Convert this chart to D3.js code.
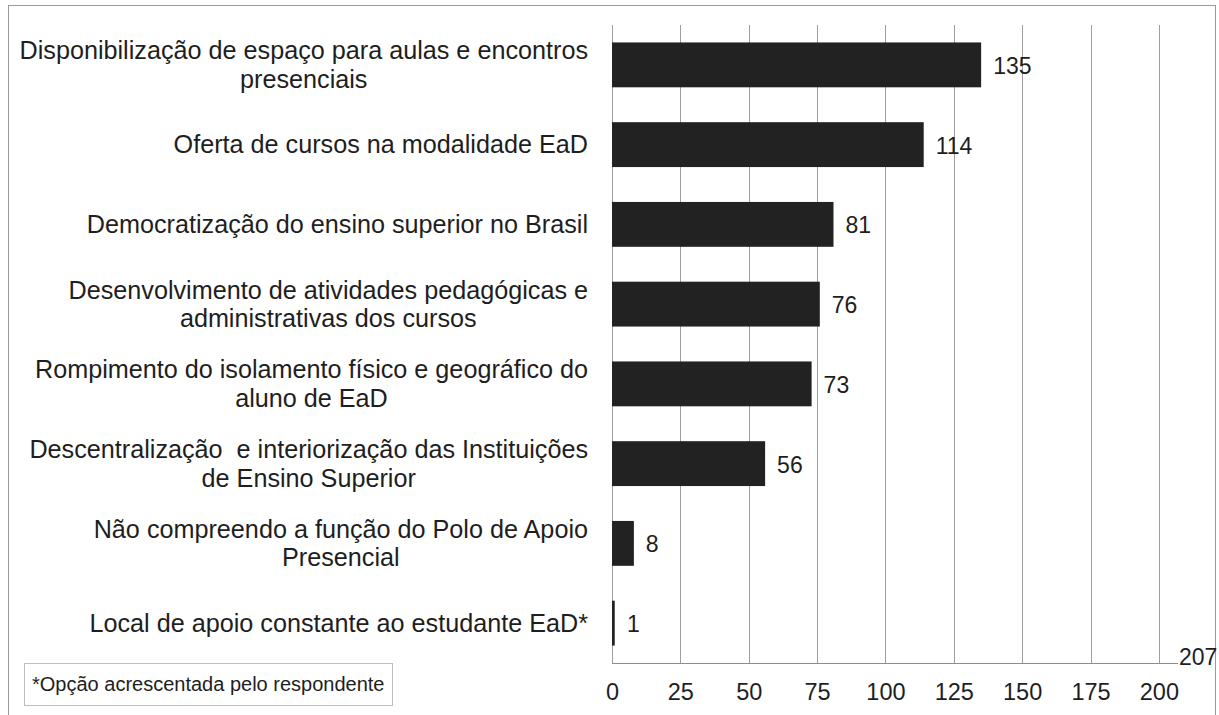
<html>
    <head>
        <meta charset="utf-8">
        <title>Polo de Apoio Presencial</title>
        <style>
        body { margin: 0; background: #fff; }
        text { font-family: "Liberation Sans", Arial, sans-serif; fill: #1e1e1e; white-space: pre; }
        .grid line { stroke: #9e9e9e; stroke-width: 1px; }
        .bar { fill: #222; }
        </style>
    </head>
    <body>
        <script src="https://d3js.org/d3.v7.min.js"></script>
        <script>

            // categories, one entry per bar (lines as broken in the original)
            var categories = [
                ["Disponibilização de espaço para aulas e encontros", "presenciais"],
                ["Oferta de cursos na modalidade EaD"],
                ["Democratização do ensino superior no Brasil"],
                ["Desenvolvimento de atividades pedagógicas e", "administrativas dos cursos"],
                ["Rompimento do isolamento físico e geográfico do", "aluno de EaD"],
                ["Descentralização  e interiorização das Instituições", "de Ensino Superior"],
                ["Não compreendo a função do Polo de Apoio", "Presencial"],
                ["Local de apoio constante ao estudante EaD*"]
            ];
            var values = [135, 114, 81, 76, 73, 56, 8, 1];
            var tickValues = [0, 25, 50, 75, 100, 125, 150, 175, 200];
            var axisMax = 207;
            var note = "*Opção acrescentada pelo respondente";

            var W = 1219, H = 715;
            var plot = {left: 612, right: 1178, top: 25, bottom: 663};

            var svg = d3.select("body").append("svg")
                .attr("width", W)
                .attr("height", H);

            // outer frame
            svg.append("rect")
                .attr("x", 8.5).attr("y", 5.5)
                .attr("width", 1207).attr("height", 740)
                .attr("fill", "none")
                .attr("stroke", "#9a9a9a");

            var x = d3.scaleLinear().domain([0, axisMax]).range([plot.left, plot.right]);
            var y = d3.scaleBand()
                .domain(d3.range(categories.length))
                .range([plot.top, plot.bottom])
                .paddingInner(0.4375)
                .paddingOuter(0.21875);

            // vertical grid lines
            svg.append("g")
                .attr("class", "grid")
                .selectAll("line")
                .data(tickValues)
                .enter().append("line")
                .attr("x1", function(d) { return Math.round(x(d)) + 0.5; })
                .attr("x2", function(d) { return Math.round(x(d)) + 0.5; })
                .attr("y1", plot.top)
                .attr("y2", plot.bottom);

            // baseline (runs to the axis maximum)
            svg.append("line")
                .attr("x1", x(0)).attr("x2", x(axisMax))
                .attr("y1", plot.bottom + 0.5).attr("y2", plot.bottom + 0.5)
                .attr("stroke", "#8c8c8c");

            svg.append("text")
                .attr("x", x(axisMax) + 1)
                .attr("y", plot.bottom - 6)
                .attr("dy", "0.35em")
                .style("font-size", "23px")
                .text(axisMax);

            // x axis tick labels
            var xAxis = d3.axisBottom(x).tickValues(tickValues).tickSize(0).tickPadding(20);
            var gx = svg.append("g")
                .attr("transform", "translate(0," + plot.bottom + ")")
                .call(xAxis);
            gx.select(".domain").remove();
            gx.selectAll("text")
                .style("font-family", "'Liberation Sans', Arial, sans-serif")
                .style("font-size", "23.5px")
                .attr("fill", "#1e1e1e");

            // bars
            svg.selectAll(".bar")
                .data(values)
                .enter().append("rect")
                .attr("class", "bar")
                .attr("x", x(0))
                .attr("y", function(d, i) { return y(i); })
                .attr("width", function(d) { return Math.max(2.5, x(d) - x(0)); })
                .attr("height", y.bandwidth());

            // value labels
            svg.selectAll(".val")
                .data(values)
                .enter().append("text")
                .attr("class", "val")
                .attr("x", function(d) { return Math.max(x(d), x(0) + 3) + 12; })
                .attr("y", function(d, i) { return y(i) + y.bandwidth() / 2 + 1; })
                .attr("dy", "0.35em")
                .style("font-size", "23px")
                .text(function(d) { return d; });

            // category labels, centred lines, block right-aligned to the axis
            var lineH = 28.5;
            var labelRight = 588;
            categories.forEach(function(lines, i) {
                var cy = y(i) + y.bandwidth() / 2;
                var g = svg.append("g");
                var t = g.selectAll("text")
                    .data(lines)
                    .enter().append("text")
                    .attr("text-anchor", "middle")
                    .attr("y", function(d, j) { return cy + (j - (lines.length - 1) / 2) * lineH; })
                    .attr("dy", "0.35em")
                    .style("font-size", "25.2px")
                    .text(function(d) { return d; });
                var maxW = d3.max(t.nodes(), function(n) { return n.getComputedTextLength(); });
                t.attr("x", labelRight - maxW / 2);
            });

            // footnote box
            svg.append("rect")
                .attr("x", 24.5).attr("y", 663.5)
                .attr("width", 368).attr("height", 42)
                .attr("fill", "#fff")
                .attr("stroke", "#bdbdbd");
            svg.append("text")
                .attr("x", 32)
                .attr("y", 684)
                .attr("dy", "0.35em")
                .style("font-size", "20px")
                .text(note);

        </script>
    </body>
</html>
